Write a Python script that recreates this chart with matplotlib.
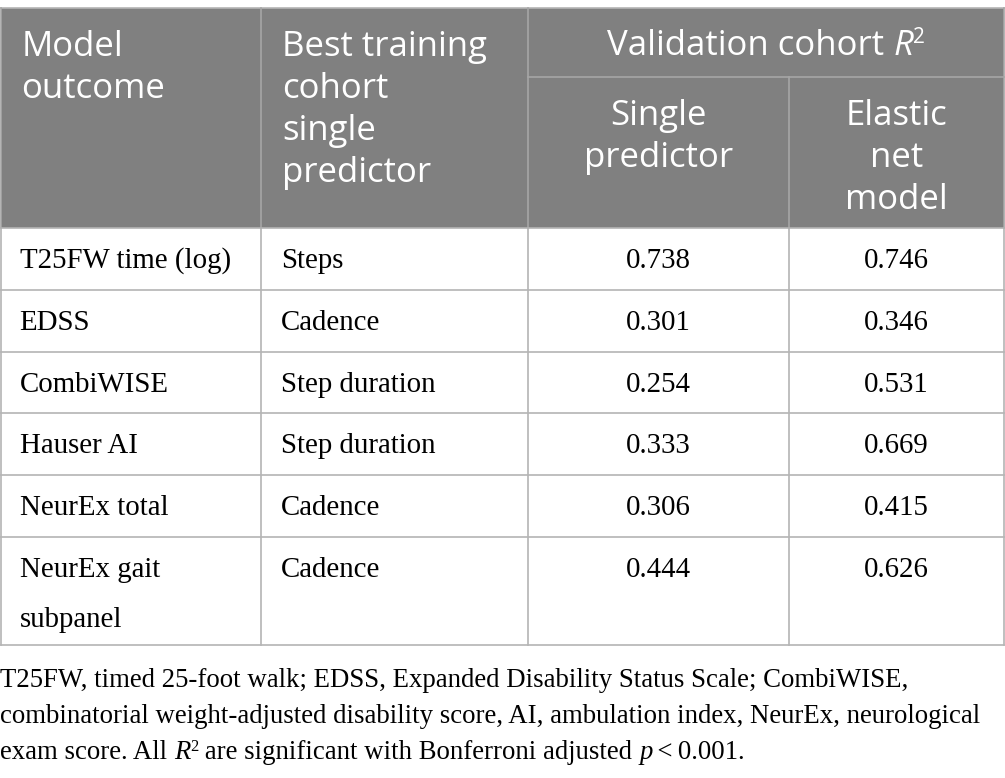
import matplotlib
matplotlib.use("Agg")
import matplotlib.pyplot as plt
from matplotlib.font_manager import FontProperties

# ---------------- data ----------------
outcomes = ["T25FW time (log)", "EDSS", "CombiWISE", "Hauser AI", "NeurEx total", "NeurEx gait\nsubpanel"]
predictors = ["Steps", "Cadence", "Step duration", "Step duration", "Cadence", "Cadence"]
single_r2 = ["0.738", "0.301", "0.254", "0.333", "0.306", "0.444"]
elastic_r2 = ["0.746", "0.346", "0.531", "0.669", "0.415", "0.626"]
header_cols = ["Model\noutcome", "Best training\ncohort\nsingle\npredictor"]
header_group = "Validation cohort "
header_sub = ["Single\npredictor", "Elastic\nnet\nmodel"]
footnote_lines = [
    "T25FW, timed 25-foot walk; EDSS, Expanded Disability Status Scale; CombiWISE,",
    "combinatorial weight-adjusted disability score, AI, ambulation index, NeurEx, neurological",
]

# ---------------- layout ----------------
W, H = 1005, 778
fig = plt.figure(figsize=(W / 100, H / 100), dpi=100)
ax = fig.add_axes([0, 0, 1, 1])
ax.set_xlim(0, W)
ax.set_ylim(H, 0)
ax.axis("off")

col_x = [0.5, 261, 528, 789, 1004]
top = 8
group_bot = 77
head_bot = 228
row_h = [62, 62, 61, 62, 62, 108]
HEAD_BG = "#808080"
LINE = "#b4b4b4"
HEAD_LINE = "#a6a6a6"

sans = FontProperties(family="Open Sans", size=25)
sans_it = FontProperties(family="Open Sans", style="italic", size=25)
sans_sup = FontProperties(family="Open Sans", size=15)
serif = FontProperties(family="Liberation Serif", size=20.8)
foot = FontProperties(family="Liberation Serif", size=19.3)
foot_it = FontProperties(family="Liberation Serif", style="italic", size=19.3)
foot_sup = FontProperties(family="Liberation Serif", size=12)

# header background
ax.add_patch(plt.Rectangle((col_x[0], top), col_x[-1] - col_x[0], head_bot - top,
                           facecolor=HEAD_BG, edgecolor="none", zorder=0))

# row boundaries
ys = [head_bot]
for h in row_h:
    ys.append(ys[-1] + h)
bottom = ys[-1]

# lines
ax.plot([col_x[0], col_x[-1]], [top, top], color=LINE, lw=1.2)
ax.plot([col_x[2], col_x[-1]], [group_bot, group_bot], color=HEAD_LINE, lw=1.2)
for y in ys:
    ax.plot([col_x[0], col_x[-1]], [y, y], color=LINE, lw=1.2)
for i, x in enumerate(col_x):
    y0 = group_bot if i == 3 else top
    ax.plot([x, x], [y0, head_bot], color=HEAD_LINE, lw=1.2)
    ax.plot([x, x], [head_bot, bottom], color=LINE, lw=1.2)

# header text
hl = 42
for i, txt in enumerate(header_cols):
    for k, line in enumerate(txt.split("\n")):
        ax.text(col_x[i] + 21, 47 + k * hl, line, fontproperties=sans, color="white",
                ha="left", va="center")
for i, txt in enumerate(header_sub):
    cx = (col_x[2 + i] + col_x[3 + i]) / 2
    for k, line in enumerate(txt.split("\n")):
        ax.text(cx, 116 + k * hl, line, fontproperties=sans, color="white",
                ha="center", va="center")

fig.canvas.draw()
renderer = fig.canvas.get_renderer()


def runs(x, y, parts, ha="left", color="black"):
    """parts: list of (text, fontprops, dy)"""
    widths = []
    for t, fp, dy in parts:
        tt = ax.text(0, 0, t, fontproperties=fp)
        widths.append(tt.get_window_extent(renderer).width)
        tt.remove()
    total = sum(widths)
    cx = x - total / 2 if ha == "center" else x
    for (t, fp, dy), w in zip(parts, widths):
        ax.text(cx, y + dy, t, fontproperties=fp, color=color, ha="left", va="baseline")
        cx += w


runs((col_x[2] + col_x[4]) / 2, 55,
     [(header_group, sans, 0), ("R", sans_it, 0), ("2", sans_sup, -12)],
     ha="center", color="white")

# body
for r in range(len(outcomes)):
    yc = ys[r] + 33
    for k, line in enumerate(outcomes[r].split("\n")):
        ax.text(col_x[0] + 19, yc + k * 50, line, fontproperties=serif, ha="left", va="center")
    ax.text(col_x[1] + 20, yc, predictors[r], fontproperties=serif, ha="left", va="center")
    ax.text((col_x[2] + col_x[3]) / 2, yc, single_r2[r], fontproperties=serif, ha="center", va="center")
    ax.text((col_x[3] + col_x[4]) / 2, yc, elastic_r2[r], fontproperties=serif, ha="center", va="center")

# footnote
fy = 687
for k, line in enumerate(footnote_lines):
    ax.text(0, fy + k * 36, line, fontproperties=foot, ha="left", va="baseline")
runs(0, fy + 72, [("exam score. All ", foot, 0), ("R", foot_it, 0), ("2", foot_sup, -8),
                  (" are significant with Bonferroni adjusted ", foot, 0), ("p", foot_it, 0),
                  ("\u2009<\u20090.001.", foot, 0)])

fig.savefig("out.png", dpi=100)
